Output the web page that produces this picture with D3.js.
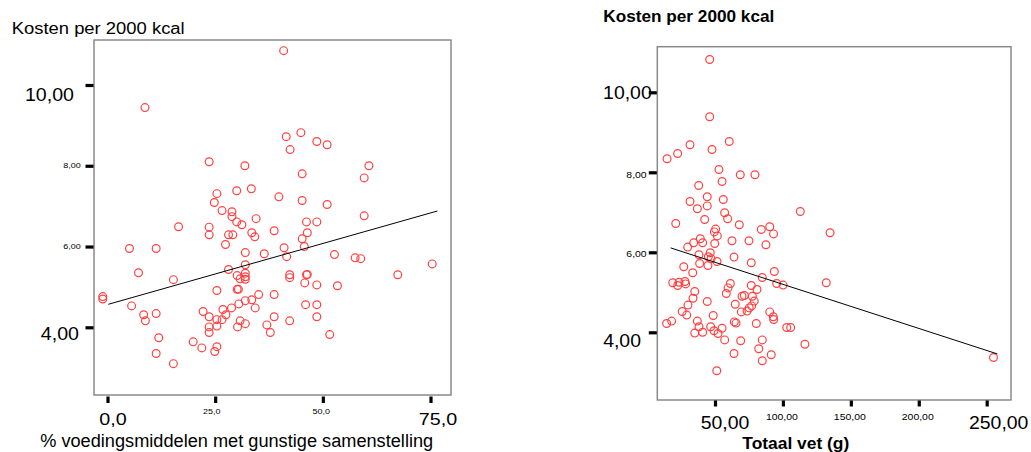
<!DOCTYPE html>
<html>
<head>
<meta charset="utf-8">
<script src="https://cdnjs.cloudflare.com/ajax/libs/d3/7.8.5/d3.min.js"></script>
<style>
  html, body { margin: 0; padding: 0; background: #fff; }
  svg { display: block; }
  text { font-family: "Liberation Sans", Arial, Helvetica, sans-serif; fill: #000; }
</style>
</head>
<body>
<svg id="chart" width="1031" height="452"></svg>
<script>
// ---------- data ----------
const leftX = [40.9, 8.7, 41.5, 44.9, 42.4, 48.6, 51.0, 23.6, 31.9, 60.7,
  45.2, 59.6, 25.4, 30.0, 33.4, 39.8, 45.2, 24.8, 26.6, 51.0,
  28.9, 28.9, 30.0, 31.2, 34.5, 46.2, 48.6, 59.6, 16.5, 23.6,
  23.6, 28.1, 29.1, 33.5, 34.2, 38.7, 45.2, 46.4, 27.4, 41.0,
  45.7, 5.1, 11.3, 32.0, 36.4, 41.6, 52.7, 57.5, 58.8, 75.4,
  32.0, 7.2, 28.1, 30.1, 32.0, 32.0, 32.0, 30.8, 42.3, 42.3,
  46.2, 46.4, 67.4, 15.3, 45.8, 48.6, 53.4, 25.4, 30.1, 30.4,
  -1.1, -1.1, 5.6, 38.7, 35.1, 33.5, 32.0, 30.5, 46.0, 48.6,
  34.3, 28.8, 26.8, 27.5, 22.2, 23.6, 25.4, 26.6, 8.4, 11.3,
  8.8, 38.7, 48.6, 42.3, 30.8, 32.0, 23.6, 25.4, 30.2, 37.0,
  23.6, 37.8, 51.6, 11.9, 19.9, 21.9, 25.4, 24.9, 11.3, 15.3];
const leftY = [10.85, 9.44, 8.72, 8.82, 8.40, 8.60, 8.52, 8.10, 8.00, 8.00,
  7.80, 7.70, 7.31, 7.38, 7.43, 7.23, 7.14, 7.09, 6.89, 7.04,
  6.86, 6.74, 6.61, 6.54, 6.69, 6.61, 6.61, 6.76, 6.49, 6.48,
  6.29, 6.29, 6.29, 6.34, 6.24, 6.39, 6.19, 6.34, 6.05, 5.97,
  6.00, 5.95, 5.95, 5.85, 5.82, 5.75, 5.80, 5.72, 5.70, 5.57,
  5.55, 5.35, 5.43, 5.28, 5.34, 5.25, 5.19, 5.20, 5.30, 5.23,
  5.30, 5.31, 5.30, 5.18, 5.10, 5.05, 5.03, 4.91, 4.94, 4.94,
  4.76, 4.70, 4.53, 4.81, 4.81, 4.68, 4.66, 4.58, 4.56, 4.56,
  4.48, 4.48, 4.44, 4.31, 4.39, 4.26, 4.19, 4.19, 4.31, 4.34,
  4.16, 4.26, 4.26, 4.16, 4.16, 4.09, 4.01, 4.03, 4.01, 4.06,
  3.87, 3.87, 3.82, 3.74, 3.64, 3.49, 3.52, 3.40, 3.35, 3.10];
const leftFitX = [0.2, 76.6];
const leftFitY = [4.57, 6.88];
const leftXTicks = [0, 25, 50, 75];
const leftXTickLabels = ["0,0", "25,0", "50,0", "75,0"];
const leftYTicks = [10, 8, 6, 4];
const leftYTickLabels = ["10,00", "8,00", "6,00", "4,00"];

const rightX = [46.1, 46.1, 31.6, 60.5, 47.8, 22.5, 14.7, 52.9, 68.6, 79.4,
  55.2, 38.0, 44.3, 56.1, 31.6, 44.3, 37.0, 57.1, 112.8, 59.3,
  42.4, 21.1, 67.9, 90.3, 84.1, 50.5, 49.5, 51.7, 93.1, 134.7,
  39.2, 34.3, 40.9, 29.9, 49.8, 62.5, 75.0, 87.5, 38.2, 46.5,
  45.1, 47.1, 51.5, 64.0, 38.7, 44.8, 27.0, 76.7, 33.6, 93.7,
  18.9, 23.5, 27.9, 28.4, 22.5, 84.8, 95.4, 100.1, 131.9, 61.3,
  59.6, 58.3, 76.7, 80.9, 35.1, 33.8, 30.1, 44.3, 64.9, 69.9,
  71.6, 77.5, 78.9, 77.0, 75.2, 25.9, 29.2, 48.7, 69.4, 73.6,
  90.3, 92.9, 93.2, 14.4, 18.1, 37.0, 38.2, 35.1, 40.9, 46.8,
  49.3, 52.2, 55.2, 64.2, 65.5, 80.4, 102.8, 105.7, 57.1, 68.9,
  84.8, 116.2, 82.2, 64.0, 91.4, 84.8, 51.3, 255.0];
const rightY = [10.82, 9.39, 8.69, 8.77, 8.57, 8.47, 8.34, 8.07, 7.94, 7.94,
  7.77, 7.67, 7.39, 7.32, 7.27, 7.16, 7.09, 6.99, 7.02, 6.84,
  6.82, 6.72, 6.69, 6.64, 6.57, 6.58, 6.51, 6.41, 6.46, 6.49,
  6.34, 6.24, 6.24, 6.13, 6.22, 6.29, 6.29, 6.19, 5.94, 5.99,
  5.89, 5.84, 5.77, 5.88, 5.72, 5.67, 5.64, 5.74, 5.49, 5.52,
  5.24, 5.25, 5.27, 5.21, 5.17, 5.37, 5.22, 5.18, 5.24, 5.22,
  5.11, 4.97, 5.17, 5.07, 5.02, 4.85, 4.68, 4.77, 4.70, 4.90,
  4.92, 4.90, 4.78, 4.66, 4.61, 4.52, 4.43, 4.42, 4.51, 4.53,
  4.51, 4.39, 4.32, 4.22, 4.28, 4.28, 4.14, 3.98, 4.00, 4.14,
  4.04, 3.97, 4.10, 4.26, 4.23, 4.22, 4.12, 4.12, 3.81, 3.79,
  3.81, 3.70, 3.59, 3.47, 3.44, 3.29, 3.04, 3.37];
const rightFitX = [17.4, 257.8];
const rightFitY = [6.11, 3.46];
const rightXTicks = [50, 100, 150, 200, 250];
const rightXTickLabels = ["50,00", "100,00", "150,00", "200,00", "250,00"];
const rightYTicks = [10, 8, 6, 4];
const rightYTickLabels = ["10,00", "8,00", "6,00", "4,00"];

// ---------- drawing ----------
const svg = d3.select("#chart");
const RED = "#ff4040";

function stretch(sel, k) {
  sel.each(function () {
    const w = this.getComputedTextLength();
    d3.select(this).attr("textLength", w * k).attr("lengthAdjust", "spacingAndGlyphs");
  });
}

function panel(cfg) {
  const g = svg.append("g");
  const x = d3.scaleLinear().domain(cfg.xDom).range(cfg.xRange);
  const y = d3.scaleLinear().domain(cfg.yDom).range(cfg.yRange);
  const f = cfg.frame;

  // frame
  g.append("rect")
    .attr("x", f.x0).attr("y", f.y0)
    .attr("width", f.x1 - f.x0).attr("height", f.y1 - f.y0)
    .attr("fill", "none").attr("stroke", "#8a8a8a").attr("stroke-width", 1.5);

  // axes ticks (marks only)
  const ya = g.append("g").attr("transform", `translate(${f.x0 - 0.5},0)`)
    .call(d3.axisLeft(y).tickValues(cfg.yTicks).tickSize(8).tickFormat(""));
  const xa = g.append("g").attr("transform", `translate(0,${cfg.xAxisY})`)
    .call(d3.axisBottom(x).tickValues(cfg.xTicks).tickSize(cfg.xTickLen).tickFormat(""));
  [ya, xa].forEach(a => {
    a.select(".domain").remove();
    a.selectAll(".tick line").attr("stroke", "#000").attr("stroke-width", 3.2);
  });

  // y tick labels
  cfg.yTicks.forEach((v, i) => {
    const o = cfg.yLabelOff[i];
    const big = (i === 0 || i === cfg.yTicks.length - 1);
    const t = g.append("text")
      .attr("x", o.x).attr("y", y(v) + o.dy)
      .attr("text-anchor", "end")
      .attr("font-size", big ? cfg.bigFont : cfg.smallFont)
      .text(cfg.yLabels[i]);
    stretch(t, big ? cfg.bigK : cfg.smallK);
  });
  // x tick labels
  cfg.xTicks.forEach((v, i) => {
    const o = cfg.xLabelOff[i];
    const big = (i === 0 || i === cfg.xTicks.length - 1);
    const t = g.append("text")
      .attr("x", x(v) + o.dx).attr("y", o.y)
      .attr("text-anchor", "middle")
      .attr("font-size", big ? cfg.xBigFont : cfg.smallFont)
      .text(cfg.xLabels[i]);
    stretch(t, big ? cfg.xBigK : cfg.smallK);
  });

  // points
  const pts = cfg.xs.map((v, i) => [v, cfg.ys[i]]);
  g.append("g").selectAll("circle").data(pts).join("circle")
    .attr("cx", d => x(d[0])).attr("cy", d => y(d[1]))
    .attr("r", 3.9)
    .attr("fill", "none").attr("stroke", RED).attr("stroke-width", 1.2);

  // fit line
  const line = d3.line().x(d => x(d[0])).y(d => y(d[1]));
  g.append("path")
    .datum(cfg.fitX.map((v, i) => [v, cfg.fitY[i]]))
    .attr("d", line)
    .attr("fill", "none").attr("stroke", "#000").attr("stroke-width", 1);

  // titles
  g.append("text")
    .attr("x", cfg.yTitle.x).attr("y", cfg.yTitle.y)
    .attr("font-size", cfg.yTitle.size)
    .attr("font-weight", cfg.bold ? "bold" : "normal")
    .attr("textLength", cfg.yTitle.w).attr("lengthAdjust", "spacingAndGlyphs")
    .text(cfg.yTitleText);
  g.append("text")
    .attr("x", cfg.xTitle.x).attr("y", cfg.xTitle.y)
    .attr("text-anchor", "middle")
    .attr("font-size", cfg.xTitle.size)
    .attr("font-weight", cfg.bold ? "bold" : "normal")
    .attr("textLength", cfg.xTitle.w).attr("lengthAdjust", "spacingAndGlyphs")
    .text(cfg.xTitleText);
}

panel({
  xs: leftX, ys: leftY, fitX: leftFitX, fitY: leftFitY,
  xDom: [0, 75], xRange: [107.5, 430.5],
  yDom: [4, 10], yRange: [327.3, 85],
  frame: { x0: 94, x1: 451, y0: 40, y1: 395 },
  xAxisY: 396.5, xTickLen: 6.5,
  xTicks: leftXTicks, xLabels: leftXTickLabels,
  yTicks: leftYTicks, yLabels: leftYTickLabels,
  bigFont: 18.5, bigK: 1.06, xBigFont: 17, xBigK: 1.16, smallFont: 8, smallK: 1.12,
  yLabelOff: [{ x: 74, dy: 15.5 }, { x: 80.7, dy: 2.7 }, { x: 80.7, dy: 2.7 }, { x: 79, dy: 12.7 }],
  xLabelOff: [{ dx: 5.5, y: 424.5 }, { dx: -3.5, y: 413.5 }, { dx: -1.5, y: 413.5 }, { dx: 7.5, y: 424.5 }],
  bold: false,
  yTitleText: "Kosten per 2000 kcal", yTitle: { x: 11.7, y: 33.5, size: 16, w: 173 },
  xTitleText: "% voedingsmiddelen met gunstige samenstelling", xTitle: { x: 236.7, y: 447, size: 18, w: 393 }
});

panel({
  xs: rightX, ys: rightY, fitX: rightFitX, fitY: rightFitY,
  xDom: [50, 250], xRange: [715, 986.7],
  yDom: [4, 10], yRange: [332.3, 92.3],
  frame: { x0: 657.3, x1: 1011, y0: 46.7, y1: 400 },
  xAxisY: 400.5, xTickLen: 6,
  xTicks: rightXTicks, xLabels: rightXTickLabels,
  yTicks: rightYTicks, yLabels: rightYTickLabels,
  bigFont: 18.5, bigK: 1.05, xBigFont: 18.5, xBigK: 1.05, smallFont: 9.5, smallK: 1.1,
  yLabelOff: [{ x: 651.7, dy: 6.7 }, { x: 646.7, dy: 5.3 }, { x: 646.7, dy: 4.8 }, { x: 641, dy: 14.7 }],
  xLabelOff: [{ dx: 10, y: 428.5 }, { dx: -1, y: 419.5 }, { dx: -1, y: 419.5 }, { dx: -1, y: 419.5 }, { dx: 12, y: 428.5 }],
  bold: true,
  yTitleText: "Kosten per 2000 kcal", yTitle: { x: 603.3, y: 21.5, size: 17, w: 171 },
  xTitleText: "Totaal vet (g)", xTitle: { x: 795.8, y: 449, size: 17, w: 107 }
});
</script>
</body>
</html>
